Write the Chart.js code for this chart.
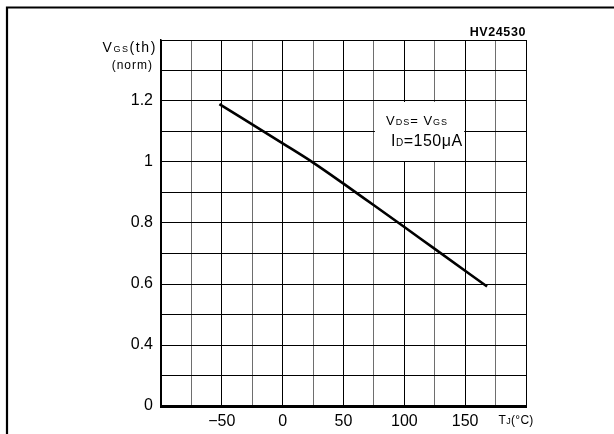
<!DOCTYPE html>
<html>
<head>
<meta charset="utf-8">
<script src="https://cdn.jsdelivr.net/npm/chart.js@4.4.0/dist/chart.umd.min.js"></script>
<style>
html,body{margin:0;padding:0;background:#fff;}
#wrap{width:614px;height:434px;position:relative;}
</style>
</head>
<body>
<div id="wrap"><canvas id="c" width="614" height="434"></canvas></div>
<script>
// ---- data ----
const temperatures = [-52, 0, 25, 50, 75, 100, 125, 168];
const vgsNorm = [1.19, 1.061, 0.998, 0.929, 0.858, 0.787, 0.715, 0.592];
const xTickLabels = {"-50": "−50", "0": "0", "50": "50", "100": "100", "150": "150"};
const yTickLabels = {"12": "1.2", "10": "1", "8": "0.8", "6": "0.6", "4": "0.4", "2": "0"};
const partNumber = "HV24530";
const noteLine1 = [["V", 13, 0], ["DS", 9, 0], ["= ", 13, 0], ["V", 13, 0], ["GS", 9, 0]];
const noteLine2 = [["I", 16, 0], ["D", 10, 0], ["=150μA", 16, 0]];
const yTitle1 = [["V", 14, 0], ["GS", 9, 0], ["(th)", 14, 0]];
const yTitle2 = "(norm)";
const xTitle = [["T", 12, 0], ["J", 9, 0], ["(°C)", 12, 0]];

const FONT = "'Liberation Sans', Arial, sans-serif";
Chart.defaults.font.family = FONT;
Chart.defaults.color = '#000';

function drawSegs(ctx, segs, x, y, spacing) {
  ctx.save();
  ctx.textBaseline = 'alphabetic';
  ctx.textAlign = 'left';
  ctx.fillStyle = '#000';
  let cx = x;
  for (const [t, size, dy] of segs) {
    ctx.font = size + 'px ' + FONT;
    for (const ch of t) {
      ctx.fillText(ch, cx, y + dy);
      cx += ctx.measureText(ch).width + spacing;
    }
  }
  ctx.restore();
  return cx - x;
}
function segsWidth(ctx, segs, spacing) {
  ctx.save();
  let w = 0;
  for (const [t, size] of segs) {
    ctx.font = size + 'px ' + FONT;
    for (const ch of t) w += ctx.measureText(ch).width + spacing;
  }
  ctx.restore();
  return w;
}

const decor = {
  id: 'decor',
  beforeDatasetsDraw(chart) {
    const {ctx, scales: {x, y}} = chart;
    // white note box erasing grid
    const x0 = x.getPixelForValue(75), x1 = x.getPixelForValue(150);
    const y0 = y.getPixelForValue(1.2), y1 = y.getPixelForValue(1.0);
    ctx.save();
    ctx.fillStyle = '#fff';
    ctx.fillRect(x0 + 1, y0 + 1, x1 - x0 - 2, y1 - y0 - 2);
    ctx.restore();
    drawSegs(ctx, noteLine1, 386, 125, 1);
    drawSegs(ctx, noteLine2, 391, 146, 0.5);
  },
  afterDraw(chart) {
    const {ctx, chartArea, scales: {x, y}} = chart;
    ctx.save();
    // outer frame (top and left)
    ctx.strokeStyle = '#000';
    ctx.lineWidth = 2.2;
    ctx.beginPath();
    ctx.moveTo(614, 7.5);
    ctx.lineTo(7, 7.5);
    ctx.lineTo(7, 434);
    ctx.stroke();
    // part number
    ctx.fillStyle = '#000';
    ctx.font = 'bold 12.5px ' + FONT;
    ctx.textAlign = 'right';
    ctx.textBaseline = 'alphabetic';
    ctx.letterSpacing = '0.6px';
    ctx.fillText(partNumber, chartArea.right, 36);
    ctx.letterSpacing = '0px';
    // y title
    const w1 = segsWidth(ctx, yTitle1, 1.6);
    drawSegs(ctx, yTitle1, 157 - w1, 52, 1.6);
    ctx.font = '12px ' + FONT;
    ctx.textAlign = 'right';
    ctx.letterSpacing = '1px';
    ctx.fillText(yTitle2, 153, 69);
    ctx.letterSpacing = '0px';
    ctx.restore();
    // x title
    drawSegs(ctx, xTitle, x.getPixelForValue(175) + 3, 424, 0.3);
  }
};

new Chart(document.getElementById('c'), {
  type: 'line',
  data: {
    datasets: [{
      data: temperatures.map((t, i) => ({x: t, y: vgsNorm[i]})),
      borderColor: '#000',
      borderWidth: 2.6,
      pointRadius: 0,
      cubicInterpolationMode: 'monotone',
      fill: false
    }]
  },
  options: {
    responsive: false,
    animation: false,
    devicePixelRatio: 1,
    layout: {padding: {left: 0, top: 40, right: 88, bottom: 0}},
    plugins: {legend: {display: false}, tooltip: {enabled: false}, title: {display: false}},
    scales: {
      x: {
        type: 'linear',
        min: -100, max: 200,
        afterFit(s) { s.height = 28; },
        afterBuildTicks(s) {
          const t = [];
          for (let v = -100; v <= 200; v += 25) t.push({value: v});
          s.ticks = t;
        },
        ticks: {
          autoSkip: false, maxRotation: 0, padding: 6,
          font: {size: 16},
          color: '#000',
          callback: (v) => xTickLabels[String(Math.round(v))] || ''
        },
        grid: {
          drawTicks: false,
          lineWidth: 1,
          color: (c) => (c.tick && Math.round(c.tick.value) % 50 === 0) ? '#000' : '#6e6e6e'
        },
        border: {display: true, color: '#000', width: 3}
      },
      y: {
        type: 'linear',
        min: 0.2, max: 1.4,
        afterFit(s) { s.width = 161; },
        afterBuildTicks(s) {
          const t = [];
          for (let k = 2; k <= 14; k++) t.push({value: k / 10});
          s.ticks = t;
        },
        ticks: {
          autoSkip: false, padding: 8,
          font: {size: 16},
          color: '#000',
          callback: (v) => yTickLabels[String(Math.round(v * 10))] || ''
        },
        grid: {drawTicks: false, lineWidth: 1, color: '#000'},
        border: {display: true, color: '#000', width: 1.5}
      }
    }
  },
  plugins: [decor]
});
</script>
</body>
</html>
